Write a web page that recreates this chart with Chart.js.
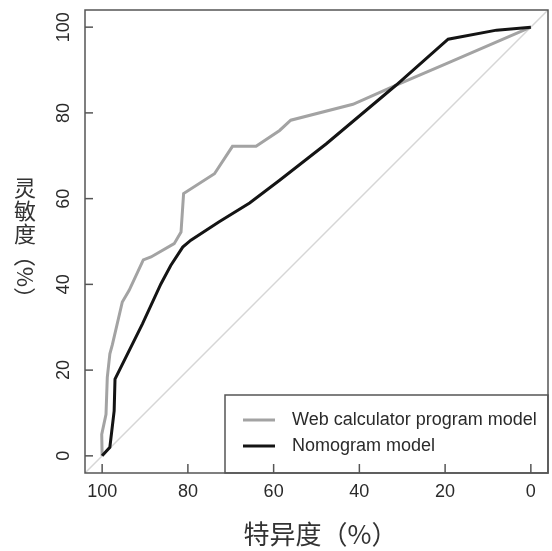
<!DOCTYPE html>
<html>
<head>
<meta charset="utf-8">
<script src="https://cdn.jsdelivr.net/npm/chart.js@4"></script>
<style>
  html, body { margin: 0; padding: 0; background: #fff; }
  #wrap { width: 552px; height: 551px; }
</style>
</head>
<body>
<div id="wrap"><canvas id="roc" width="552" height="551"></canvas></div>
<script>
/* ── Data (specificity %, sensitivity %) ── */
const webSpec = [100, 100.1, 99.1, 98.8, 98.2, 97.6, 95.3, 93.7, 90.4, 88.6, 83.2, 81.6, 81.0, 73.8, 69.6, 64.1, 58.6, 56.0, 41.5, 31.4, 19.7, 0];
const webSens = [0, 5, 9.7, 18.3, 23.8, 26, 35.9, 38.6, 45.7, 46.4, 49.5, 52.2, 61.2, 65.8, 72.2, 72.2, 75.9, 78.3, 82, 86.5, 91.5, 100];

const nomoSpec = [100, 98.2, 97.2, 97.0, 90.6, 86.3, 84.0, 81.2, 79.3, 72.7, 65.6, 58.6, 47.7, 31.4, 19.3, 8.0, 0];
const nomoSens = [0, 2, 10.5, 17.9, 30.8, 40.1, 44.4, 48.7, 50.3, 54.6, 59.0, 64.3, 72.8, 86.5, 97.2, 99.3, 100];

const refSpec = [104, -4];
const refSens = [-4, 104];

const tickValues = [0, 20, 40, 60, 80, 100];
const seriesLabels = ['Web calculator program model', 'Nomogram model'];
const xTitle = '特异度（%）';
const yTitle = '灵敏度';
const yTitleUnit = '（%）';

/* ── Colours ── */
const GRAY = '#a3a3a3';
const BLACK = '#141414';
const DIAG = '#d6d6d6';
const AXIS = '#555';
const TEXT = '#2a2a2a';

function pts(xs, ys) {
  return xs.map((x, i) => ({ x: x, y: ys[i] }));
}

/* ── R-style frame, inward ticks, rotated y labels, legend box ── */
const rFrame = {
  id: 'rFrame',
  afterDraw(chart) {
    const ctx = chart.ctx;
    const a = chart.chartArea;
    const xs = chart.scales.x;
    const ys = chart.scales.y;
    ctx.save();

    // box
    ctx.strokeStyle = AXIS;
    ctx.lineWidth = 1.5;
    ctx.strokeRect(a.left, a.top, a.right - a.left, a.bottom - a.top);

    // ticks + labels
    ctx.fillStyle = TEXT;
    ctx.textAlign = 'center';
    ctx.textBaseline = 'middle';
    tickValues.forEach(v => {
      const px = xs.getPixelForValue(v);
      ctx.beginPath();
      ctx.moveTo(px, a.bottom);
      ctx.lineTo(px, a.bottom - 9);
      ctx.stroke();
      ctx.font = '18px "Liberation Sans", Arial, sans-serif';
      ctx.fillText(String(v), px, a.bottom + 19);

      const py = ys.getPixelForValue(v);
      ctx.beginPath();
      ctx.moveTo(a.left, py);
      ctx.lineTo(a.left + 8, py);
      ctx.stroke();
      ctx.save();
      ctx.translate(a.left - 21, py);
      ctx.rotate(-Math.PI / 2);
      ctx.font = '18px "Liberation Sans", Arial, sans-serif';
      ctx.fillText(String(v), 0, 0);
      ctx.restore();
    });

    // axis titles
    ctx.font = '26px "Noto Sans CJK SC", sans-serif';
    ctx.fillStyle = '#333';
    ctx.fillText(xTitle, (a.left + a.right) / 2 + 4, 534);

    ctx.font = '22px "Noto Sans CJK SC", sans-serif';
    [...yTitle].forEach((ch, i) => {
      ctx.fillText(ch, 25, 188 + i * 23);
    });
    ctx.save();
    ctx.translate(25, 277);
    ctx.rotate(Math.PI / 2);
    ctx.fillText(yTitleUnit, 0, 0);
    ctx.restore();

    // legend
    const lx = a.right - 323, ly = a.bottom - 78;
    ctx.strokeStyle = AXIS;
    ctx.lineWidth = 1.5;
    ctx.strokeRect(lx, ly, a.right - lx, a.bottom - ly);
    const colors = [GRAY, BLACK];
    ctx.font = '18px "Liberation Sans", Arial, sans-serif';
    ctx.textAlign = 'left';
    seriesLabels.forEach((lab, i) => {
      const yy = ly + 25 + i * 26;
      ctx.strokeStyle = colors[i];
      ctx.lineWidth = 3;
      ctx.beginPath();
      ctx.moveTo(lx + 18, yy);
      ctx.lineTo(lx + 50, yy);
      ctx.stroke();
      ctx.fillStyle = TEXT;
      ctx.fillText(lab, lx + 67, yy);
    });

    ctx.restore();
  }
};

new Chart(document.getElementById('roc'), {
  type: 'scatter',
  data: {
    datasets: [
      {
        label: 'reference',
        data: pts(refSpec, refSens),
        showLine: true,
        borderColor: DIAG,
        borderWidth: 1.5,
        pointRadius: 0,
        order: 3,
      },
      {
        label: seriesLabels[0],
        data: pts(webSpec, webSens),
        showLine: true,
        borderColor: GRAY,
        borderWidth: 3,
        pointRadius: 0,
        order: 2,
      },
      {
        label: seriesLabels[1],
        data: pts(nomoSpec, nomoSens),
        showLine: true,
        borderColor: BLACK,
        borderWidth: 3,
        pointRadius: 0,
        order: 1,
      },
    ],
  },
  options: {
    responsive: false,
    animation: false,
    layout: { padding: { left: 85, right: 4, top: 10, bottom: 78 } },
    plugins: {
      legend: { display: false },
      tooltip: { enabled: false },
    },
    scales: {
      x: {
        type: 'linear',
        reverse: true,
        min: -4,
        max: 104,
        afterBuildTicks: s => { s.ticks = tickValues.map(v => ({ value: v })); },
        grid: { display: false, drawTicks: false },
        border: { display: false },
        ticks: { display: false },
      },
      y: {
        type: 'linear',
        min: -4,
        max: 104,
        afterBuildTicks: s => { s.ticks = tickValues.map(v => ({ value: v })); },
        grid: { display: false, drawTicks: false },
        border: { display: false },
        ticks: { display: false },
      },
    },
  },
  plugins: [rFrame],
});
</script>
</body>
</html>
